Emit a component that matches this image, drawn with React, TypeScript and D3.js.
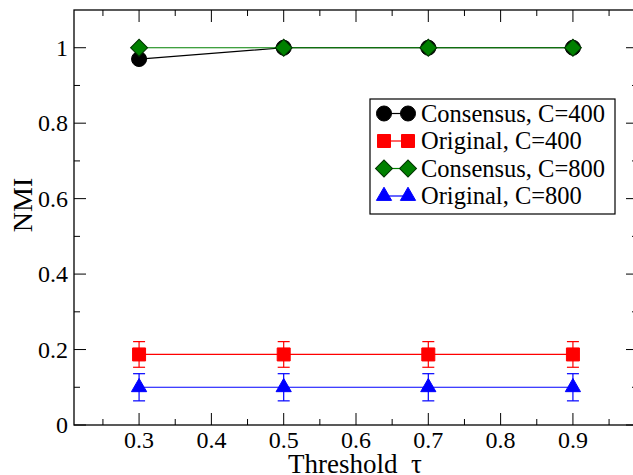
import React, { useEffect, useRef } from 'react';
import * as d3 from 'd3';

const thresholds = [0.3, 0.5, 0.7, 0.9];
const consensus400 = [0.97, 1, 1, 1];
const original400 = [0.187, 0.187, 0.187, 0.187];
const original400Err = [0.034, 0.034, 0.034, 0.034];
const consensus800 = [1, 1, 1, 1];
const original800 = [0.1, 0.1, 0.1, 0.1];
const original800Err = [0.036, 0.036, 0.036, 0.036];

const xMajor = [0.3, 0.4, 0.5, 0.6, 0.7, 0.8, 0.9];
const xMinor = [0.25, 0.35, 0.45, 0.55, 0.65, 0.75, 0.85, 0.95];
const yMajor = [0, 0.2, 0.4, 0.6, 0.8, 1];
const yMinor = [0.1, 0.3, 0.5, 0.7, 0.9];

const legendNames = ['Consensus, C=400', 'Original, C=400', 'Consensus, C=800', 'Original, C=800'];

function App() {
  const ref = useRef<SVGSVGElement | null>(null);

  useEffect(() => {
    const svgWidth = 633, svgHeight = 475;
    const left = 74, right = 638, top = 10, bottom = 425;

    const svg = d3.select(ref.current);
    svg.selectAll('*').remove();
    svg.attr('width', svgWidth).attr('height', svgHeight)
      .style('font-family', "'Liberation Serif', 'Times New Roman', serif");

    const x = d3.scaleLinear().domain([0.21, 0.99]).range([left, right]);
    const y = d3.scaleLinear().domain([0, 1.1]).range([bottom, top]);

    svg.append('rect').attr('width', svgWidth).attr('height', svgHeight).attr('fill', 'white');

    // ticks on all four sides, pointing in
    const ticks = svg.append('g').attr('stroke', 'black').attr('stroke-width', 1);
    const xt = (vals: number[], len: number) => {
      vals.forEach((v) => {
        ticks.append('line').attr('x1', x(v)).attr('x2', x(v)).attr('y1', bottom).attr('y2', bottom - len);
        ticks.append('line').attr('x1', x(v)).attr('x2', x(v)).attr('y1', top).attr('y2', top + len);
      });
    };
    const yt = (vals: number[], len: number) => {
      vals.forEach((v) => {
        ticks.append('line').attr('x1', left).attr('x2', left + len).attr('y1', y(v)).attr('y2', y(v));
        ticks.append('line').attr('x1', right).attr('x2', right - len).attr('y1', y(v)).attr('y2', y(v));
      });
    };
    xt(xMajor, 12);
    xt(xMinor, 6);
    yt(yMajor, 12);
    yt(yMinor, 6);

    svg.append('rect')
      .attr('x', left).attr('y', top)
      .attr('width', right - left).attr('height', bottom - top)
      .attr('fill', 'none').attr('stroke', 'black').attr('stroke-width', 1.3);

    // tick labels
    svg.append('g').selectAll('text').data(xMajor).enter().append('text')
      .attr('x', (d) => x(d)).attr('y', 448)
      .attr('text-anchor', 'middle')
      .attr('font-size', 24)
      .text((d) => d3.format('.1f')(d));

    svg.append('g').selectAll('text').data(yMajor).enter().append('text')
      .attr('x', 68).attr('y', (d) => y(d) + 8)
      .attr('text-anchor', 'end')
      .attr('font-size', 24)
      .text((d) => (d === 0 || d === 1 ? String(d) : d3.format('.1f')(d)));

    svg.append('text')
      .attr('x', (left + right) / 2 - 1).attr('y', 473)
      .attr('text-anchor', 'middle')
      .attr('font-size', 27)
      .style('white-space', 'pre')
      .text('Threshold  τ');

    svg.append('text')
      .attr('transform', 'translate(32,205) rotate(-90)')
      .attr('text-anchor', 'middle')
      .attr('font-size', 28)
      .text('NMI');

    const circle = d3.symbol().type(d3.symbolCircle).size(177)();
    const square = d3.symbol().type(d3.symbolSquare).size(169)();
    const diamond = d3.symbol().type(d3.symbolSquare).size(144)();
    const triangle = d3.symbol().type(d3.symbolTriangle).size(100)();

    const series = [
      { values: consensus400, err: null as number[] | null, color: 'black', stroke: 'black', path: circle, rot: 0 },
      { values: original400, err: original400Err, color: '#ff0000', stroke: '#ff0000', path: square, rot: 0 },
      { values: consensus800, err: null as number[] | null, color: '#008000', stroke: '#003300', path: diamond, rot: 45 },
      { values: original800, err: original800Err, color: '#0000ff', stroke: '#0000ff', path: triangle, rot: 0 },
    ];

    const line = d3.line<number>().x((d, i) => x(thresholds[i])).y((d) => y(d));

    series.forEach((s) => {
      const g = svg.append('g');
      g.append('path')
        .attr('d', line(s.values))
        .attr('fill', 'none')
        .attr('stroke', s.color)
        .attr('stroke-width', 1.2);

      if (s.err) {
        const err = s.err;
        s.values.forEach((v, i) => {
          const cx = x(thresholds[i]);
          const y1 = y(v + err[i]), y2 = y(v - err[i]);
          g.append('line').attr('x1', cx).attr('x2', cx).attr('y1', y1).attr('y2', y2)
            .attr('stroke', s.color).attr('stroke-width', 1.2);
          [y1, y2].forEach((yy) => {
            g.append('line').attr('x1', cx - 6).attr('x2', cx + 6).attr('y1', yy).attr('y2', yy)
              .attr('stroke', s.color).attr('stroke-width', 1.2);
          });
        });
      }

      g.selectAll('path.m').data(s.values).enter().append('path')
        .attr('class', 'm')
        .attr('d', s.path)
        .attr('transform', (d, i) => 'translate(' + x(thresholds[i]) + ',' + y(d) + ') rotate(' + s.rot + ')')
        .attr('fill', s.color)
        .attr('stroke', s.stroke)
        .attr('stroke-width', 1);
    });

    // legend
    const lg = svg.append('g');
    lg.append('rect')
      .attr('x', 370).attr('y', 99).attr('width', 245).attr('height', 115)
      .attr('fill', 'white').attr('stroke', 'black').attr('stroke-width', 1.2);

    series.forEach((s, i) => {
      const cy = 113.5 + i * 27.5;
      lg.append('line').attr('x1', 384).attr('x2', 408).attr('y1', cy).attr('y2', cy)
        .attr('stroke', s.color).attr('stroke-width', 1.2);
      [384, 408].forEach((cx) => {
        lg.append('path').attr('d', s.path)
          .attr('transform', 'translate(' + cx + ',' + cy + ') rotate(' + s.rot + ')')
          .attr('fill', s.color).attr('stroke', s.stroke).attr('stroke-width', 1);
      });
      lg.append('text')
        .attr('x', 421).attr('y', cy + 8)
        .attr('font-size', 24.5)
        .text(legendNames[i]);
    });
  }, []);

  return (
    <div style={{ position: 'absolute', left: 0, top: 0 }}>
      <svg ref={ref} style={{ display: 'block' }}></svg>
    </div>
  );
}

export default App;
